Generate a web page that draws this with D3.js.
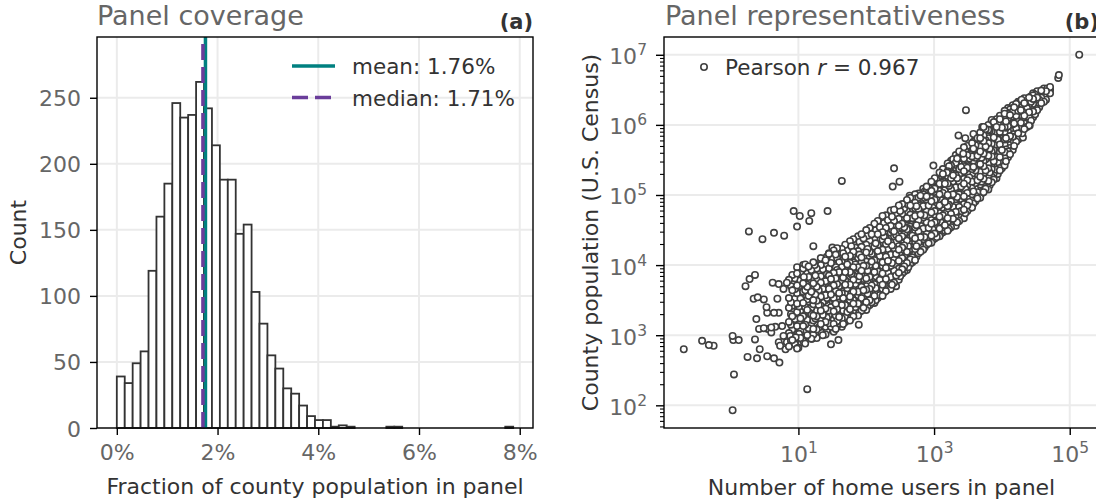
<!DOCTYPE html>
<html>
<head>
<meta charset="utf-8">
<script src="https://cdnjs.cloudflare.com/ajax/libs/d3/7.8.5/d3.min.js"></script>
<style>
  html, body { margin: 0; padding: 0; background: #fff; }
  svg { display: block; font-family: "DejaVu Sans", sans-serif; }
</style>
</head>
<body>
<div id="chart-area"></div>
<script>
// ---------- data ----------

// (a) panel coverage: 50 equal bins between binRange[0] and binRange[1] (percent)
const binRange = [0, 7.87];
const binCounts = [39, 34, 49, 58, 119, 160, 185, 246, 235, 237,
                   262, 242, 214, 188, 188, 147, 154, 103, 79, 55,
                   45, 30, 26, 17, 9, 6, 6, 1, 2, 1,
                   0, 0, 0, 0, 1, 1, 0, 0, 0, 0,
                   0, 0, 0, 0, 0, 0, 0, 0, 0, 1];
const meanPct = 1.76, medianPct = 1.71;
const pctTicks = [0, 2, 4, 6, 8];
const countTicks = [0, 50, 100, 150, 200, 250];

// (b) panel representativeness: [log10 home users, log10 county population]
const sparsePoints = [
  [-0.69, 2.80], [-0.42, 2.92], [-0.32, 2.86], [-0.25, 2.85], [0.03, 2.99], [0.04, 2.93], [0.12, 2.93], [0.05, 2.44], [0.03, 1.93],
  [0.25, 2.69], [0.39, 2.67], [0.43, 2.80], [0.54, 2.70], [0.64, 2.67], [0.72, 2.61], [0.36, 2.94],
  [0.22, 3.70], [0.28, 3.80], [0.36, 3.86], [0.34, 3.52], [0.40, 3.54], [0.49, 3.51], [0.38, 3.23], [0.42, 3.09],
  [0.49, 3.10], [0.55, 3.09], [0.60, 3.11], [0.66, 3.12], [0.53, 3.40], [0.54, 3.32], [0.64, 3.32], [0.71, 3.32],
  [0.69, 3.52], [0.62, 3.75], [0.71, 3.73], [0.78, 3.66], [0.83, 3.75], [0.76, 3.13], [0.78, 2.99], [0.71, 2.90],
  [0.73, 2.85], [0.83, 2.90], [0.88, 2.99], [0.81, 2.80], [1.13, 2.23],
  [0.27, 4.48], [0.47, 4.37], [0.64, 4.46], [0.79, 4.42], [0.93, 4.77], [1.02, 4.70], [1.19, 4.74], [1.16, 4.63],
  [0.98, 4.55], [1.43, 4.77], [1.22, 4.27], [1.50, 4.25], [1.45, 4.17], [1.51, 4.20], [1.64, 5.20], [2.39, 5.12],
  [2.49, 5.19], [1.07, 4.00], [1.24, 4.00], [0.98, 3.88], [1.08, 3.83],
  [0.60, 3.04], [0.96, 2.97], [1.04, 2.90], [1.00, 2.82], [1.20, 2.95], [1.48, 2.87], [1.59, 2.93], [1.89, 3.15], [2.44, 3.70],
  [2.41, 5.38], [2.64, 4.99], [2.99, 5.42], [3.47, 6.21], [3.36, 5.85], [3.46, 5.81], [3.58, 5.87],
  [5.14, 7.00], [4.84, 6.71], [4.83, 6.67], [4.67, 6.52], [4.71, 6.50], [4.46, 6.42], [4.53, 6.42], [4.29, 6.36],
  [4.41, 5.99], [4.31, 5.82], [4.14, 5.87], [4.04, 6.20], [3.85, 6.06], [3.71, 5.97], [3.92, 5.35], [3.63, 5.18],
  [3.43, 5.59], [3.28, 5.51], [3.19, 5.32], [4.59, 6.33]
];

// dense part of the cloud, read column by column: [log10 users, [log10 population...]]
const denseColumns = [
  [0.86, [2.84, 3.03, 3.19, 3.39, 3.53, 3.79]],
  [0.91, [2.93, 3.08, 3.27, 3.42, 3.64, 3.86]],
  [0.98, [2.81, 3.01, 3.13, 3.33, 3.45, 3.60, 3.71, 3.97]],
  [1.03, [2.96, 3.06, 3.24, 3.35, 3.52, 3.59, 3.78, 3.89]],
  [1.10, [2.88, 3.05, 3.15, 3.29, 3.40, 3.57, 3.64, 3.82, 4.01]],
  [1.15, [2.99, 3.10, 3.25, 3.33, 3.48, 3.56, 3.72, 3.83, 3.98]],
  [1.22, [3.01, 3.09, 3.21, 3.28, 3.44, 3.50, 3.65, 3.74, 3.90, 4.04]],
  [1.27, [2.96, 3.08, 3.14, 3.27, 3.35, 3.49, 3.55, 3.69, 3.79, 3.95]],
  [1.33, [3.04, 3.16, 3.22, 3.35, 3.42, 3.55, 3.61, 3.75, 3.84, 4.00, 4.10]],
  [1.40, [3.01, 3.12, 3.19, 3.31, 3.38, 3.50, 3.57, 3.70, 3.77, 3.91, 4.07]],
  [1.45, [3.09, 3.17, 3.29, 3.35, 3.47, 3.53, 3.66, 3.72, 3.85, 3.95, 4.16]],
  [1.52, [3.05, 3.16, 3.22, 3.34, 3.40, 3.53, 3.59, 3.71, 3.77, 3.89, 4.00, 4.21]],
  [1.57, [3.13, 3.20, 3.32, 3.37, 3.49, 3.55, 3.67, 3.73, 3.86, 3.93, 4.10, 4.24]],
  [1.64, [3.12, 3.24, 3.30, 3.43, 3.49, 3.60, 3.66, 3.78, 3.84, 3.97, 4.06, 4.23]],
  [1.69, [3.19, 3.26, 3.38, 3.43, 3.55, 3.60, 3.72, 3.78, 3.90, 3.97, 4.12, 4.29]],
  [1.76, [3.21, 3.31, 3.37, 3.50, 3.55, 3.66, 3.72, 3.84, 3.90, 4.03, 4.13, 4.34]],
  [1.81, [3.27, 3.34, 3.45, 3.50, 3.62, 3.67, 3.79, 3.85, 3.97, 4.04, 4.19, 4.37]],
  [1.88, [3.28, 3.39, 3.45, 3.57, 3.62, 3.74, 3.79, 3.91, 3.97, 4.10, 4.20, 4.41]],
  [1.93, [3.35, 3.41, 3.53, 3.58, 3.69, 3.75, 3.86, 3.92, 4.04, 4.11, 4.26, 4.44]],
  [2.00, [3.36, 3.47, 3.53, 3.65, 3.70, 3.81, 3.87, 3.99, 4.05, 4.18, 4.29, 4.50]],
  [2.05, [3.43, 3.50, 3.61, 3.66, 3.77, 3.83, 3.94, 4.00, 4.12, 4.19, 4.35, 4.53]],
  [2.12, [3.46, 3.56, 3.62, 3.73, 3.78, 3.90, 3.95, 4.07, 4.13, 4.26, 4.37, 4.59]],
  [2.17, [3.53, 3.59, 3.70, 3.75, 3.86, 3.91, 4.02, 4.08, 4.20, 4.28, 4.44, 4.63]],
  [2.24, [3.56, 3.66, 3.72, 3.83, 3.88, 3.99, 4.04, 4.16, 4.22, 4.36, 4.47, 4.70]],
  [2.29, [3.63, 3.69, 3.80, 3.85, 3.96, 4.01, 4.12, 4.18, 4.30, 4.38, 4.53, 4.71]],
  [2.36, [3.66, 3.77, 3.83, 3.94, 3.99, 4.10, 4.15, 4.26, 4.32, 4.46, 4.56, 4.78]],
  [2.41, [3.75, 3.81, 3.92, 3.97, 4.08, 4.13, 4.24, 4.29, 4.41, 4.48, 4.63, 4.79]],
  [2.48, [3.79, 3.89, 3.95, 4.06, 4.11, 4.22, 4.27, 4.38, 4.44, 4.56, 4.66, 4.85]],
  [2.53, [3.88, 3.94, 4.05, 4.10, 4.21, 4.25, 4.36, 4.41, 4.53, 4.59, 4.73, 4.87]],
  [2.60, [3.93, 4.03, 4.09, 4.19, 4.24, 4.35, 4.40, 4.51, 4.56, 4.67, 4.77, 4.93]],
  [2.65, [4.02, 4.08, 4.18, 4.23, 4.34, 4.39, 4.50, 4.55, 4.66, 4.72, 4.85, 4.96]],
  [2.72, [4.07, 4.17, 4.23, 4.33, 4.38, 4.49, 4.54, 4.65, 4.70, 4.81, 4.89, 5.01]],
  [2.77, [4.17, 4.22, 4.32, 4.37, 4.48, 4.53, 4.64, 4.69, 4.80, 4.85, 4.96, 5.02]],
  [2.84, [4.22, 4.32, 4.37, 4.48, 4.52, 4.63, 4.68, 4.79, 4.84, 4.94, 5.01, 5.09]],
  [2.89, [4.29, 4.35, 4.45, 4.50, 4.61, 4.66, 4.77, 4.82, 4.93, 4.98, 5.08, 5.12]],
  [2.96, [4.32, 4.42, 4.48, 4.59, 4.64, 4.75, 4.80, 4.91, 4.96, 5.06, 5.11, 5.19]],
  [3.01, [4.38, 4.45, 4.55, 4.61, 4.72, 4.77, 4.88, 4.93, 5.04, 5.09, 5.19, 5.24]],
  [3.08, [4.41, 4.52, 4.58, 4.69, 4.74, 4.85, 4.90, 5.01, 5.06, 5.16, 5.22, 5.32]],
  [3.13, [4.47, 4.54, 4.65, 4.71, 4.82, 4.87, 4.98, 5.03, 5.14, 5.19, 5.30, 5.37]],
  [3.20, [4.49, 4.60, 4.67, 4.78, 4.84, 4.95, 5.00, 5.11, 5.16, 5.27, 5.34, 5.45]],
  [3.25, [4.54, 4.62, 4.73, 4.80, 4.91, 4.97, 5.08, 5.13, 5.24, 5.31, 5.42, 5.49]],
  [3.32, [4.56, 4.68, 4.76, 4.87, 4.94, 5.05, 5.11, 5.22, 5.28, 5.39, 5.46, 5.57]],
  [3.37, [4.63, 4.71, 4.83, 4.90, 5.01, 5.08, 5.19, 5.26, 5.37, 5.44, 5.55, 5.62]],
  [3.44, [4.67, 4.79, 4.87, 4.98, 5.05, 5.16, 5.23, 5.34, 5.41, 5.52, 5.59, 5.68]],
  [3.49, [4.77, 4.85, 4.96, 5.03, 5.14, 5.21, 5.32, 5.39, 5.50, 5.57, 5.70]],
  [3.56, [4.82, 4.94, 5.01, 5.12, 5.19, 5.30, 5.37, 5.48, 5.55, 5.66, 5.74]],
  [3.61, [4.91, 4.99, 5.10, 5.17, 5.28, 5.35, 5.46, 5.53, 5.64, 5.71, 5.83]],
  [3.68, [4.96, 5.08, 5.15, 5.26, 5.33, 5.44, 5.51, 5.62, 5.69, 5.81, 5.89]],
  [3.73, [5.04, 5.12, 5.23, 5.30, 5.41, 5.48, 5.59, 5.66, 5.77, 5.85, 5.97]],
  [3.80, [5.08, 5.20, 5.27, 5.38, 5.45, 5.56, 5.63, 5.74, 5.81, 5.93, 6.00]],
  [3.85, [5.18, 5.26, 5.37, 5.44, 5.55, 5.62, 5.73, 5.80, 5.91, 5.98, 6.07]],
  [3.92, [5.24, 5.36, 5.43, 5.54, 5.61, 5.72, 5.79, 5.90, 5.97, 6.08]],
  [3.97, [5.35, 5.43, 5.54, 5.61, 5.72, 5.79, 5.90, 5.97, 6.08, 6.13]],
  [4.04, [5.42, 5.54, 5.61, 5.72, 5.79, 5.90, 5.97, 6.08, 6.16]],
  [4.09, [5.54, 5.62, 5.73, 5.80, 5.91, 5.98, 6.09, 6.16, 6.24]],
  [4.16, [5.64, 5.76, 5.83, 5.94, 6.01, 6.12, 6.19, 6.28]],
  [4.21, [5.76, 5.84, 5.95, 6.02, 6.13, 6.20, 6.30]],
  [4.28, [5.84, 5.96, 6.03, 6.14, 6.21, 6.34]],
  [4.33, [5.94, 6.02, 6.13, 6.20, 6.31, 6.38]],
  [4.40, [5.99, 6.11, 6.18, 6.29, 6.39]],
  [4.46, [6.11, 6.19, 6.30, 6.37, 6.45]],
  [4.52, [6.21, 6.32, 6.39, 6.48]],
  [4.58, [6.31, 6.39, 6.49]],
  [4.65, [6.36, 6.48]],
  [4.71, [6.45, 6.54]],
  // second pass, between the columns above
  [0.89, [2.92, 3.15, 3.30, 3.47, 3.70]],
  [0.95, [2.87, 3.11, 3.23, 3.52, 3.66, 3.81]],
  [1.01, [3.02, 3.19, 3.41, 3.54, 3.70, 3.93]],
  [1.07, [2.92, 3.13, 3.27, 3.46, 3.62, 3.74, 3.95]],
  [1.13, [3.00, 3.22, 3.36, 3.51, 3.69, 3.88]],
  [1.19, [2.95, 3.14, 3.30, 3.39, 3.62, 3.79, 3.93]],
  [1.25, [3.04, 3.24, 3.40, 3.58, 3.71, 3.85, 4.02]],
  [1.30, [3.11, 3.20, 3.43, 3.52, 3.64, 3.89]],
  [1.36, [3.00, 3.19, 3.29, 3.47, 3.66, 3.80, 3.94]],
  [1.42, [3.07, 3.25, 3.44, 3.53, 3.74, 3.87, 4.12]],
  [1.48, [3.12, 3.23, 3.40, 3.58, 3.69, 3.80, 4.03]],
  [1.55, [3.09, 3.28, 3.45, 3.63, 3.81, 3.97, 4.15]],
  [1.60, [3.17, 3.26, 3.42, 3.60, 3.70, 3.90, 4.04]],
  [1.66, [3.16, 3.35, 3.53, 3.63, 3.82, 3.93, 4.17]],
  [1.72, [3.22, 3.33, 3.48, 3.67, 3.84, 4.01, 4.21]],
  [1.78, [3.25, 3.42, 3.59, 3.70, 3.87, 4.08, 4.27]],
  [1.84, [3.31, 3.40, 3.55, 3.73, 3.92, 4.01, 4.25]],
  [1.90, [3.33, 3.49, 3.66, 3.84, 3.94, 4.15, 4.33]],
  [1.96, [3.39, 3.56, 3.64, 3.80, 3.99, 4.20, 4.38]],
  [2.02, [3.41, 3.59, 3.76, 3.92, 4.02, 4.23, 4.42]],
  [2.08, [3.47, 3.55, 3.71, 3.88, 4.05, 4.16, 4.44]],
  [2.14, [3.50, 3.67, 3.84, 3.99, 4.10, 4.31, 4.50]],
  [2.20, [3.57, 3.64, 3.79, 3.95, 4.13, 4.24, 4.54]],
  [2.26, [3.61, 3.77, 3.93, 4.09, 4.20, 4.41, 4.60]],
  [2.32, [3.66, 3.74, 3.89, 4.06, 4.23, 4.34, 4.64]],
  [2.38, [3.72, 3.87, 4.03, 4.19, 4.28, 4.50, 4.69]],
  [2.44, [3.78, 3.85, 4.00, 4.16, 4.33, 4.43, 4.72]],
  [2.50, [3.84, 3.99, 4.14, 4.30, 4.39, 4.60, 4.77]],
  [2.56, [3.91, 3.98, 4.13, 4.28, 4.45, 4.54, 4.81]],
  [2.62, [3.97, 4.13, 4.27, 4.43, 4.52, 4.70, 4.86]],
  [2.68, [4.04, 4.11, 4.26, 4.42, 4.58, 4.67, 4.91]],
  [2.74, [4.12, 4.27, 4.41, 4.57, 4.66, 4.84, 4.95]],
  [2.80, [4.19, 4.26, 4.40, 4.56, 4.72, 4.81, 4.99]],
  [2.86, [4.25, 4.40, 4.54, 4.71, 4.79, 4.96, 5.05]],
  [2.92, [4.31, 4.38, 4.53, 4.69, 4.85, 4.94, 5.10]],
  [2.98, [4.36, 4.51, 4.66, 4.82, 4.91, 5.07, 5.16]],
  [3.04, [4.40, 4.47, 4.63, 4.79, 4.96, 5.05, 5.21]],
  [3.10, [4.45, 4.61, 4.76, 4.93, 5.02, 5.18, 5.28]],
  [3.16, [4.49, 4.57, 4.73, 4.90, 5.07, 5.16, 5.34]],
  [3.22, [4.52, 4.70, 4.86, 5.04, 5.13, 5.30, 5.41]],
  [3.28, [4.57, 4.66, 4.83, 5.01, 5.19, 5.28, 5.46]],
  [3.34, [4.61, 4.80, 4.97, 5.15, 5.24, 5.42, 5.52]],
  [3.40, [4.68, 4.77, 4.94, 5.12, 5.31, 5.40, 5.58]],
  [3.46, [4.74, 4.92, 5.09, 5.27, 5.36, 5.54, 5.63]],
  [3.52, [4.81, 4.90, 5.07, 5.25, 5.43, 5.52, 5.68]],
  [3.58, [4.88, 5.05, 5.22, 5.40, 5.49, 5.66, 5.76]],
  [3.64, [4.95, 5.04, 5.21, 5.38, 5.56, 5.65, 5.81]],
  [3.70, [5.02, 5.19, 5.36, 5.53, 5.62, 5.79, 5.87]],
  [3.76, [5.09, 5.18, 5.35, 5.51, 5.69, 5.78, 5.94]],
  [3.82, [5.14, 5.32, 5.49, 5.66, 5.75, 5.92, 5.99]],
  [3.88, [5.22, 5.31, 5.48, 5.64, 5.82, 5.91, 6.04]],
  [3.94, [5.30, 5.47, 5.63, 5.79, 5.88, 6.02]],
  [4.00, [5.38, 5.47, 5.64, 5.80, 5.96, 6.05]],
  [4.06, [5.48, 5.65, 5.81, 5.96, 6.05, 6.18]],
  [4.12, [5.58, 5.67, 5.84, 6.00, 6.14, 6.22]],
  [4.18, [5.70, 5.87, 6.02, 6.16, 6.25]],
  [4.24, [5.79, 5.88, 6.05, 6.20, 6.33]],
  [4.30, [5.88, 6.06, 6.19, 6.29]],
  [4.37, [5.97, 6.07, 6.24, 6.36]],
  [4.43, [6.06, 6.22, 6.33, 6.41]],
  [4.49, [6.15, 6.27, 6.43]],
  [4.55, [6.25, 6.36, 6.46]],
  [4.62, [6.33, 6.42, 6.52]]
];
const pearsonR = 0.967;
const userTicks = [1e1, 1e3, 1e5];
const popTicks = [1e2, 1e3, 1e4, 1e5, 1e6, 1e7];

// ---------- layout ----------
const canvas = { width: 1096, height: 502 };
const pa = { left: 97, right: 533, top: 37, bottom: 428 };
const pb = { left: 664, right: 1099, top: 37, bottom: 428 };
const gridColor = "#ebebeb", tickColor = "#666", labelColor = "#333";
const tickFont = 22, labelFont = 22;

const svg = d3.select("#chart-area").append("svg")
  .attr("width", canvas.width).attr("height", canvas.height);

// ---------- panel (a) ----------
const binW = (binRange[1] - binRange[0]) / binCounts.length;
const padA = (binRange[1] - binRange[0]) * 0.05;
const xA = d3.scaleLinear().domain([binRange[0] - padA, binRange[1] + padA]).range([pa.left, pa.right]);
const yA = d3.scaleLinear().domain([0, 296]).range([pa.bottom, pa.top]);

const gA = svg.append("g");

// grid
gA.append("g").selectAll("line").data(pctTicks).join("line")
  .attr("x1", d => xA(d)).attr("x2", d => xA(d)).attr("y1", pa.top).attr("y2", pa.bottom)
  .attr("stroke", gridColor).attr("stroke-width", 2);
gA.append("g").selectAll("line").data(countTicks).join("line")
  .attr("x1", pa.left).attr("x2", pa.right).attr("y1", d => yA(d)).attr("y2", d => yA(d))
  .attr("stroke", gridColor).attr("stroke-width", 2);

// bars
const bins = binCounts.map((c, i) => ({ x0: binRange[0] + i * binW, x1: binRange[0] + (i + 1) * binW, count: c }))
  .filter(b => b.count > 0);
gA.append("g").selectAll("rect").data(bins).join("rect")
  .attr("x", d => xA(d.x0)).attr("width", d => xA(d.x1) - xA(d.x0))
  .attr("y", d => yA(d.count)).attr("height", d => yA(0) - yA(d.count))
  .attr("fill", "#fff").attr("stroke", "#333").attr("stroke-width", 1.8);

// mean / median lines
gA.append("line").attr("x1", xA(meanPct)).attr("x2", xA(meanPct)).attr("y1", pa.bottom).attr("y2", pa.top)
  .attr("stroke", "#008080").attr("stroke-width", 3.5);
gA.append("line").attr("x1", xA(medianPct)).attr("x2", xA(medianPct)).attr("y1", pa.bottom).attr("y2", pa.top)
  .attr("stroke", "#6a3d9a").attr("stroke-width", 3.5).attr("stroke-dasharray", "16,7");

// axes
const xAxisA = gA.append("g").attr("transform", `translate(0,${pa.bottom})`)
  .call(d3.axisBottom(xA).tickValues(pctTicks).tickSize(7).tickSizeOuter(0).tickFormat(d => d + "%"));
const yAxisA = gA.append("g").attr("transform", `translate(${pa.left},0)`)
  .call(d3.axisLeft(yA).tickValues(countTicks).tickSize(7).tickSizeOuter(0).tickPadding(9));

function styleAxis(ax) {
  ax.select(".domain").remove();
  ax.selectAll(".tick line").attr("stroke", "#000").attr("stroke-width", 1.4);
  ax.selectAll(".tick text").attr("fill", tickColor).attr("font-size", tickFont)
    .attr("font-family", "DejaVu Sans");
}
styleAxis(xAxisA);
styleAxis(yAxisA);
xAxisA.selectAll(".tick text").attr("y", 32).attr("dy", null);
yAxisA.selectAll(".tick text").attr("dy", "8px");

// spines
gA.append("rect").attr("x", pa.left).attr("y", pa.top)
  .attr("width", pa.right - pa.left).attr("height", pa.bottom - pa.top)
  .attr("fill", "none").attr("stroke", "#000").attr("stroke-width", 1.4);

// legend
const legA = gA.append("g");
const legItems = [
  { label: "mean: " + meanPct.toFixed(2) + "%", color: "#008080", dash: null, y: 66 },
  { label: "median: " + medianPct.toFixed(2) + "%", color: "#6a3d9a", dash: "16,7", y: 97.5 }
];
legA.selectAll("line").data(legItems).join("line")
  .attr("x1", 292).attr("x2", 335).attr("y1", d => d.y).attr("y2", d => d.y)
  .attr("stroke", d => d.color).attr("stroke-width", 3.5).attr("stroke-dasharray", d => d.dash);
legA.selectAll("text").data(legItems).join("text")
  .attr("x", 352).attr("y", d => d.y + 8).attr("font-size", 21.5).attr("fill", labelColor)
  .text(d => d.label);

// texts
gA.append("text").attr("x", pa.left).attr("y", 25).attr("font-size", 27).attr("fill", tickColor)
  .text("Panel coverage");
gA.append("text").attr("x", pa.right).attr("y", 29).attr("text-anchor", "end")
  .attr("font-size", 21).attr("font-weight", "bold").attr("fill", labelColor).text("(a)");
gA.append("text").attr("x", (pa.left + pa.right) / 2).attr("y", 494).attr("text-anchor", "middle")
  .attr("font-size", labelFont).attr("fill", labelColor).text("Fraction of county population in panel");
gA.append("text").attr("transform", `translate(26,${(pa.top + pa.bottom) / 2}) rotate(-90)`)
  .attr("text-anchor", "middle").attr("font-size", labelFont).attr("fill", labelColor).text("Count");

// ---------- panel (b) ----------
const points = sparsePoints.concat(denseColumns.flatMap(([lx, lys]) => lys.map(ly => [lx, ly])))
  .map(([lx, ly]) => ({ users: Math.pow(10, lx), pop: Math.pow(10, ly) }));

// draw in a scrambled order (like county order in the source) so overlaps don't stack in stripes
const n = points.length;
const drawOrder = points.map((p, i) => points[(i * 7919) % n]);

const lxExt = d3.extent(points, d => Math.log10(d.users));
const lyExt = d3.extent(points, d => Math.log10(d.pop));
const padBx = (lxExt[1] - lxExt[0]) * 0.05, padBy = (lyExt[1] - lyExt[0]) * 0.05;
const xB = d3.scaleLog().domain([Math.pow(10, lxExt[0] - padBx), Math.pow(10, lxExt[1] + padBx)]).range([pb.left, pb.right]);
const yB = d3.scaleLog().domain([Math.pow(10, lyExt[0] - padBy), Math.pow(10, lyExt[1] + padBy)]).range([pb.bottom, pb.top]);

const gB = svg.append("g");

gB.append("g").selectAll("line").data(userTicks).join("line")
  .attr("x1", d => xB(d)).attr("x2", d => xB(d)).attr("y1", pb.top).attr("y2", pb.bottom)
  .attr("stroke", gridColor).attr("stroke-width", 2);
gB.append("g").selectAll("line").data(popTicks).join("line")
  .attr("x1", pb.left).attr("x2", pb.right).attr("y1", d => yB(d)).attr("y2", d => yB(d))
  .attr("stroke", gridColor).attr("stroke-width", 2);

// scatter
gB.append("g").selectAll("circle").data(drawOrder).join("circle")
  .attr("cx", d => xB(d.users)).attr("cy", d => yB(d.pop)).attr("r", 3.2)
  .attr("fill", "#fff").attr("stroke", "#404040").attr("stroke-width", 1.6);

// minor ticks on the population axis
const yDom = yB.domain();
const minorTicks = [];
for (let k = 1; k <= 7; k++) for (let m = 2; m <= 9; m++) {
  const v = m * Math.pow(10, k);
  if (v >= yDom[0] && v <= yDom[1]) minorTicks.push(v);
}
const yMinorB = gB.append("g").attr("transform", `translate(${pb.left},0)`)
  .call(d3.axisLeft(yB).tickValues(minorTicks).tickSize(4).tickSizeOuter(0).tickFormat(""));
styleAxis(yMinorB);
yMinorB.selectAll(".tick line").attr("stroke-width", 1.1);

const supLabel = function (d) {
  const t = d3.select(this);
  t.text(null);
  t.append("tspan").text("10");
  t.append("tspan").attr("dy", -9).attr("font-size", 15.5).text(Math.round(Math.log10(d)));
};

const yAxisB = gB.append("g").attr("transform", `translate(${pb.left},0)`)
  .call(d3.axisLeft(yB).tickValues(popTicks).tickSize(8).tickSizeOuter(0).tickPadding(9));
styleAxis(yAxisB);
yAxisB.selectAll(".tick text").attr("dy", "9px").each(supLabel);

const xAxisB = gB.append("g").attr("transform", `translate(0,${pb.bottom})`)
  .call(d3.axisBottom(xB).tickValues(userTicks).tickSize(7).tickSizeOuter(0));
styleAxis(xAxisB);
xAxisB.selectAll(".tick text").attr("y", 33.5).attr("dy", null).each(supLabel);

gB.append("rect").attr("x", pb.left).attr("y", pb.top)
  .attr("width", pb.right - pb.left).attr("height", pb.bottom - pb.top)
  .attr("fill", "none").attr("stroke", "#000").attr("stroke-width", 1.4);

// legend
gB.append("circle").attr("cx", 704).attr("cy", 67).attr("r", 3.2)
  .attr("fill", "#fff").attr("stroke", "#404040").attr("stroke-width", 1.6);
const pearson = gB.append("text").attr("x", 725).attr("y", 74.5).attr("font-size", 21.5).attr("fill", labelColor);
pearson.append("tspan").text("Pearson ");
pearson.append("tspan").attr("font-style", "italic").text("r");
pearson.append("tspan").text(" = " + pearsonR.toFixed(3));

gB.append("text").attr("x", pb.left + 1).attr("y", 25).attr("font-size", 27).attr("fill", tickColor)
  .text("Panel representativeness");
gB.append("text").attr("x", pb.right).attr("y", 29).attr("text-anchor", "end")
  .attr("font-size", 21).attr("font-weight", "bold").attr("fill", labelColor).text("(b)");
gB.append("text").attr("x", (pb.left + pb.right) / 2).attr("y", 495).attr("text-anchor", "middle")
  .attr("font-size", labelFont).attr("fill", labelColor).text("Number of home users in panel");
gB.append("text").attr("transform", `translate(598,${(pb.top + pb.bottom) / 2}) rotate(-90)`)
  .attr("text-anchor", "middle").attr("font-size", labelFont).attr("fill", labelColor)
  .text("County population (U.S. Census)");
</script>
</body>
</html>
